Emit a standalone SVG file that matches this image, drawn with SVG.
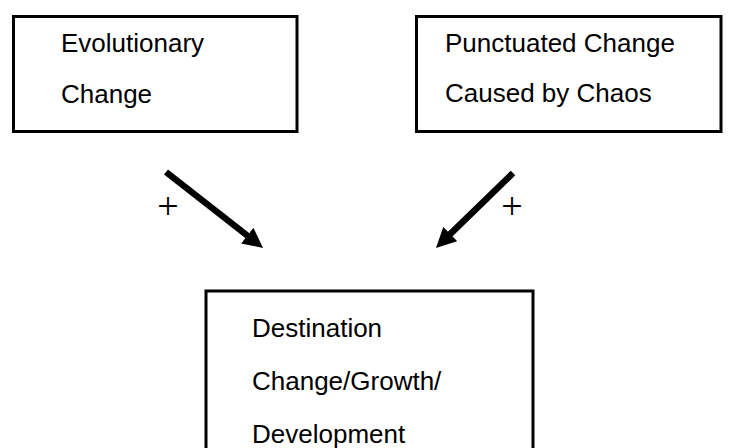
<svg xmlns="http://www.w3.org/2000/svg" width="733" height="448" viewBox="0 0 733 448">
  <style>
    .box { fill: #ffffff; stroke: #000000; stroke-width: 3; }
    .label { font-family: "Liberation Sans", Arial, sans-serif; font-size: 26px; fill: #000000; }
    .sign { font-family: "Liberation Serif", "Times New Roman", serif; font-size: 38px; fill: #000000; text-anchor: middle; }
    .link { stroke: #000000; stroke-width: 6.5; fill: none; marker-end: url(#head); }
  </style>
  <defs>
    <marker id="head" markerUnits="userSpaceOnUse" viewBox="0 0 20 20" markerWidth="20" markerHeight="20" refX="6" refY="10" orient="auto">
      <path d="M0,0 L20,10 L0,20 z" fill="#000000"/>
    </marker>
  </defs>

  <rect width="733" height="448" fill="#ffffff"/>

  <g id="evolutionary-change">
    <rect class="box" x="13.5" y="16.5" width="283.5" height="115"/>
    <text class="label" x="61" y="52">Evolutionary</text>
    <text class="label" x="61" y="103">Change</text>
  </g>

  <g id="punctuated-change">
    <rect class="box" x="416.5" y="16.5" width="304.5" height="115"/>
    <text class="label" x="445" y="52">Punctuated Change</text>
    <text class="label" x="445" y="102">Caused by Chaos</text>
  </g>

  <g id="destination-change">
    <rect class="box" x="206" y="291" width="327" height="180"/>
    <text class="label" x="252" y="337">Destination</text>
    <text class="label" x="252" y="390">Change/Growth/</text>
    <text class="label" x="252" y="443">Development</text>
  </g>

  <g id="connectors">
    <line class="link" x1="166" y1="172" x2="252" y2="239.3"/>
    <line class="link" x1="513" y1="173" x2="446" y2="238.2"/>
    <text class="sign" x="168" y="218.5">+</text>
    <text class="sign" x="512" y="218.5">+</text>
  </g>
</svg>
